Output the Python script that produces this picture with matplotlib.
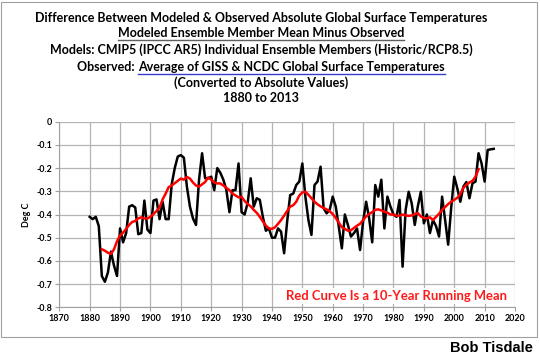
import numpy as np
import matplotlib.pyplot as plt
from matplotlib.patches import Rectangle
from matplotlib.lines import Line2D

# model minus observed, deg C
years = list(range(1880, 2014))
diff = [-0.41, -0.42, -0.41, -0.45, -0.665, -0.69, -0.65, -0.56, -0.62, -0.665,
        -0.46, -0.52, -0.48, -0.366, -0.36, -0.37, -0.485, -0.48, -0.34, -0.465,
        -0.48, -0.34, -0.335, -0.42, -0.345, -0.42, -0.42, -0.27, -0.2, -0.15,
        -0.144, -0.155, -0.28, -0.366, -0.417, -0.445, -0.25, -0.136, -0.244, -0.244,
        -0.237, -0.295, -0.2, -0.22, -0.25, -0.295, -0.39, -0.295, -0.295, -0.18,
        -0.39, -0.4, -0.35, -0.244, -0.366, -0.33, -0.337, -0.41, -0.47, -0.46,
        -0.5, -0.5, -0.46, -0.474, -0.567, -0.43, -0.316, -0.31, -0.273, -0.258,
        -0.18, -0.323, -0.424, -0.488, -0.273, -0.258, -0.194, -0.373, -0.395, -0.38,
        -0.323, -0.366, -0.453, -0.546, -0.4, -0.445, -0.495, -0.48, -0.46, -0.553,
        -0.43, -0.345, -0.417, -0.52, -0.273, -0.323, -0.25, -0.46, -0.323, -0.366,
        -0.4, -0.41, -0.337, -0.625, -0.38, -0.302, -0.352, -0.445, -0.366, -0.302,
        -0.438, -0.40, -0.48, -0.424, -0.45, -0.495, -0.323, -0.424, -0.53, -0.37,
        -0.237, -0.287, -0.345, -0.28, -0.26, -0.33, -0.266, -0.258, -0.136, -0.18,
        -0.258, -0.122, -0.119, -0.117]

# 10-year running mean as drawn (red curve), 1884-2008
mean_years = list(range(1884, 2009))
mean_vals = [-0.55, -0.556, -0.565, -0.57, -0.55, -0.515,
             -0.49, -0.478, -0.462, -0.445, -0.432, -0.428, -0.417, -0.412, -0.417, -0.417,
             -0.41, -0.398, -0.385, -0.37, -0.335, -0.31, -0.282, -0.275, -0.265, -0.255,
             -0.245, -0.25, -0.238, -0.245, -0.262, -0.275, -0.28, -0.27, -0.26, -0.24,
             -0.25, -0.262, -0.266, -0.266, -0.275, -0.285, -0.295, -0.31, -0.318, -0.326,
             -0.324, -0.342, -0.355, -0.365, -0.38, -0.393, -0.41, -0.43, -0.448, -0.46,
             -0.462, -0.455, -0.44, -0.424, -0.405, -0.385, -0.366, -0.36, -0.345, -0.318,
             -0.305, -0.302, -0.315, -0.33, -0.345, -0.356, -0.365, -0.372, -0.378, -0.386,
             -0.398, -0.415, -0.435, -0.455, -0.462, -0.47, -0.468, -0.458, -0.448, -0.44,
             -0.424, -0.408, -0.398, -0.39, -0.38, -0.378, -0.382, -0.388, -0.392, -0.4,
             -0.4, -0.405, -0.405, -0.4, -0.404, -0.406, -0.404, -0.398, -0.394, -0.408,
             -0.415, -0.417, -0.412, -0.424, -0.41, -0.397, -0.38, -0.368, -0.355, -0.345,
             -0.337, -0.328, -0.312, -0.285, -0.272, -0.262, -0.255, -0.237, -0.205]

title_lines = ["Difference Between Modeled & Observed Absolute Global Surface Temperatures",
               "Modeled Ensemble Member Mean Minus Observed",
               "Models: CMIP5 (IPCC AR5) Individual Ensemble Members (Historic/RCP8.5)",
               None,
               "(Converted to Absolute Values)",
               "1880 to 2013"]
obs_a = "Observed: "
obs_b = "Average of GISS & NCDC Global Surface Temperatures"

W, H = 540, 357
fig = plt.figure(figsize=(W / 100, H / 100), dpi=100)
fnt = "Lato"
tsize = 9.0

# outer frame
fig.patches.append(Rectangle((1 / W, 1 - 337 / H), 536 / W, 335 / H, transform=fig.transFigure,
                             fill=False, ec="#a0a0a0", lw=0.8))

ax = fig.add_axes([59.3 / W, 1 - 307.3 / H, (515 - 59.3) / W, (307.3 - 121.7) / H])
ax.plot(years, diff, color="black", lw=1.8, zorder=3)
ax.plot(mean_years, mean_vals, color="#ff0000", lw=1.8, zorder=4)
ax.set_xlim(1870, 2020)
ax.set_ylim(-0.8, 0)
ax.set_xticks(range(1870, 2021, 10))
ax.set_yticks(np.arange(-0.8, 0.01, 0.1))
ax.set_yticklabels(["-0.8", "-0.7", "-0.6", "-0.5", "-0.4", "-0.3", "-0.2", "-0.1", "0"])
ax.grid(True, color="#b4b4b4", lw=0.9)
ax.set_axisbelow(True)
for s in ["top", "right"]:
    ax.spines[s].set_visible(False)
for s in ["left", "bottom"]:
    ax.spines[s].set_color("#a0a0a0")
ax.tick_params(length=3, color="#a0a0a0", labelsize=6.4, pad=2)
for lab in ax.get_xticklabels() + ax.get_yticklabels():
    lab.set_fontfamily(fnt)
    lab.set_fontweight("bold")
ax.set_ylabel("Deg C", fontsize=6.4, fontweight="bold", fontfamily=fnt, labelpad=4)

ax.text(0.982, 0.03, "Red Curve Is a 10-Year Running Mean", transform=ax.transAxes,
        ha="right", va="bottom", fontsize=9.4, fontweight="bold", fontfamily=fnt, color="#ff1a1a",
        bbox=dict(fc="white", ec="none", pad=1.5), zorder=5)

fig.text(533 / W, 1 - 348 / H, "Bob Tisdale", ha="right", va="center", fontsize=10.5,
         fontweight="bold", fontfamily="Liberation Sans")

# title block
cx = 261 / W
ys = [18, 33, 50, 67, 83, 98]
texts = {}
for i, (line, yy) in enumerate(zip(title_lines, ys)):
    if line is None:
        continue
    texts[i] = fig.text(cx, 1 - yy / H, line, ha="center", va="center", fontsize=tsize,
                        fontweight="bold", fontfamily=fnt)

fig.canvas.draw()
r = fig.canvas.get_renderer()

# observed line in two parts, centred together
ta = fig.text(0, 1 - ys[3] / H, obs_a, ha="left", va="center", fontsize=tsize,
              fontweight="bold", fontfamily=fnt)
tb = fig.text(0, 1 - ys[3] / H, obs_b, ha="left", va="center", fontsize=tsize,
              fontweight="bold", fontfamily=fnt)
wa = ta.get_window_extent(r).width
wb = tb.get_window_extent(r).width
x0 = cx * W - (wa + wb) / 2
ta.set_x(x0 / W)
tb.set_x((x0 + wa) / W)
fig.canvas.draw()


def underline(t, color):
    bb = t.get_window_extent(r)
    y = bb.y0 - 0.5
    fig.lines.append(Line2D([bb.x0 / W, bb.x1 / W], [y / H, y / H], transform=fig.transFigure,
                            color=color, lw=1.0))


underline(texts[1], "#606060")
underline(tb, "#3a3ad0")

fig.savefig("out.png", dpi=100)
